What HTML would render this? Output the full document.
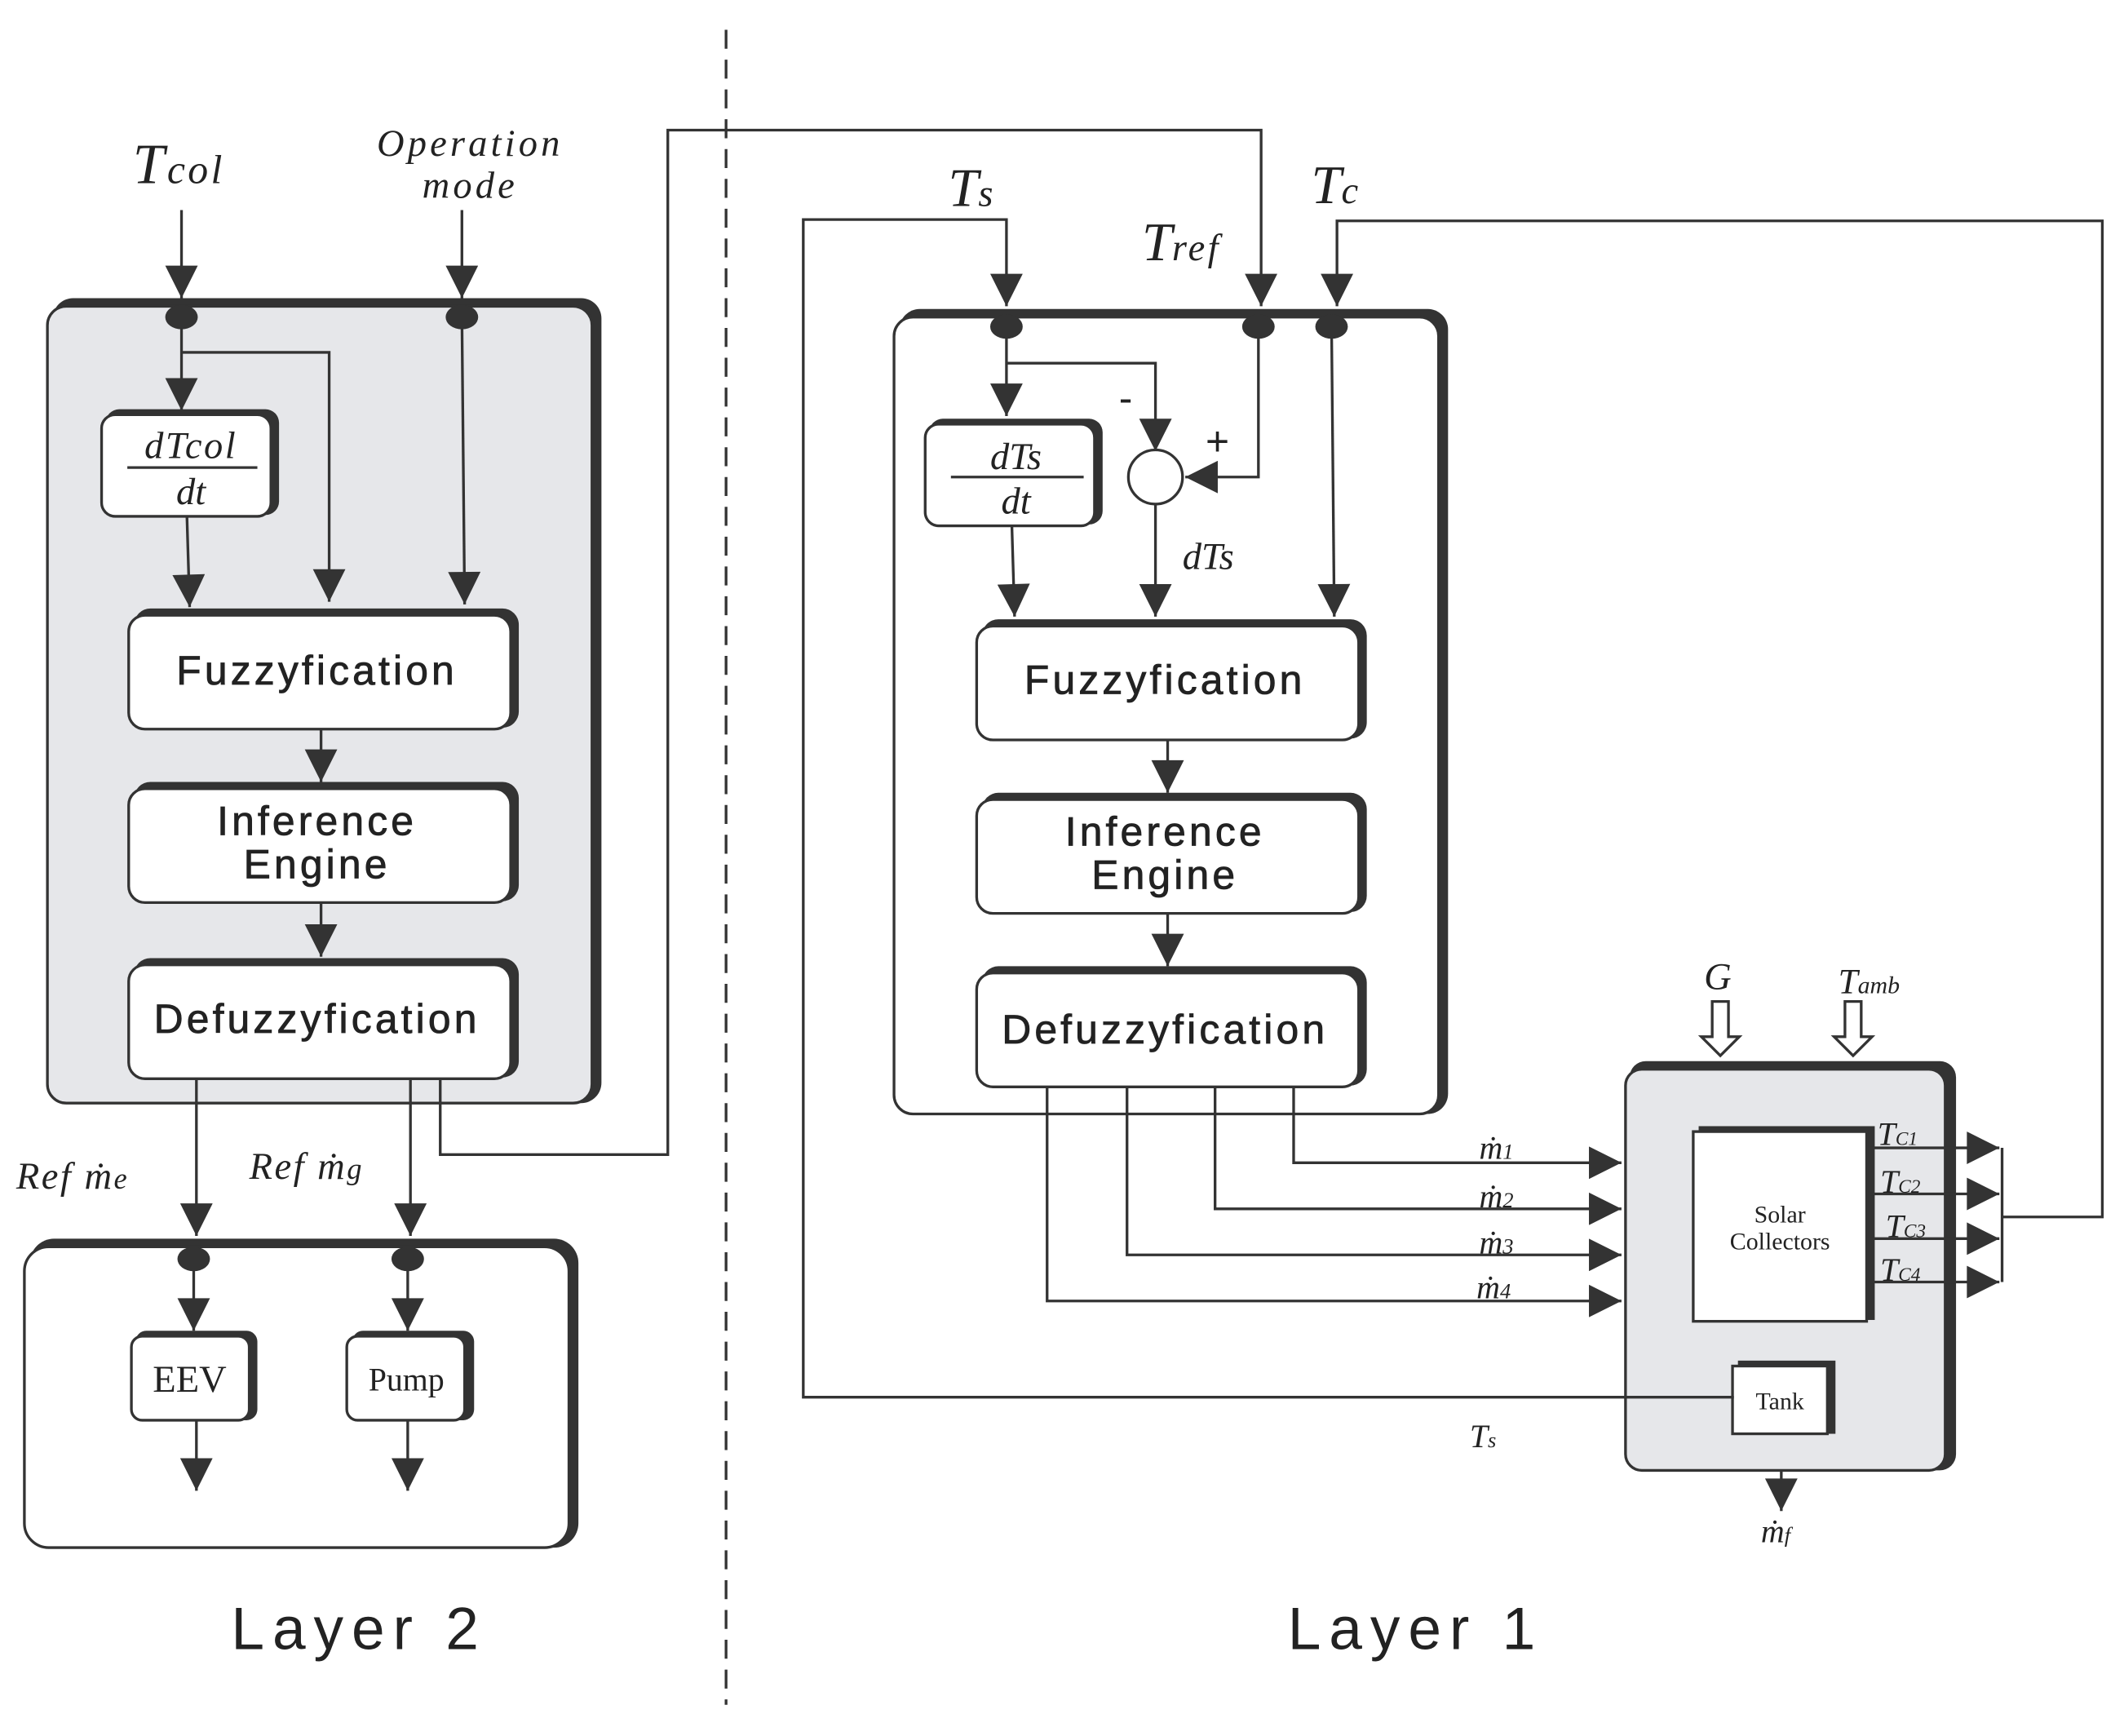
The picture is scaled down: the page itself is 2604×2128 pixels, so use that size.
<!DOCTYPE html>
<html><head><meta charset="utf-8"><style>
html,body{margin:0;padding:0;background:#fff;}
svg{display:block;}
.s{font-family:"Liberation Sans",sans-serif;fill:#222;}
.i{font-family:"Liberation Serif",serif;font-style:italic;fill:#222;}
.r{font-family:"Liberation Serif",serif;fill:#222;}
.bx{font-size:30px;letter-spacing:2.5px;stroke:#222;stroke-width:0.5px;}
.ly{font-size:44px;letter-spacing:6px;}
</style></head><body>
<svg width="2604" height="2128" viewBox="0 0 1568 1281" preserveAspectRatio="none" xmlns="http://www.w3.org/2000/svg">
<defs>
<marker id="b" viewBox="0 0 10 10" refX="10" refY="5" markerWidth="26" markerHeight="24" orient="auto" markerUnits="userSpaceOnUse"><path d="M0,0 L10,5 L0,10 z" fill="#333"/></marker>
</defs>
<g stroke="#333" fill="none" stroke-width="2">
<line x1="536" y1="22" x2="536" y2="1258" stroke-dasharray="14,8"/>

<rect x="39" y="220" width="405" height="594" rx="15" fill="#333" stroke="none"/>
<rect x="35" y="226" width="402" height="588" rx="14" fill="#e6e7ea"/>
<rect x="22" y="914" width="405" height="228" rx="18" fill="#333" stroke="none"/>
<rect x="18" y="920" width="402" height="222" rx="18" fill="#fff"/>

<rect x="664" y="228" width="405" height="594" rx="15" fill="#333" stroke="none"/>
<rect x="660" y="234" width="402" height="588" rx="14" fill="#fff"/>

<rect x="1203" y="783" width="241" height="302" rx="12" fill="#333" stroke="none"/>
<rect x="1200" y="789" width="236" height="296" rx="12" fill="#e6e7ea"/>
<rect x="1254" y="831" width="130" height="143" fill="#333" stroke="none"/>
<rect x="1250" y="835" width="128" height="140" fill="#fff"/>
<rect x="1283" y="1004" width="72" height="54" fill="#333" stroke="none"/>
<rect x="1279" y="1008" width="70" height="50" fill="#fff"/>

<g>
<rect x="99" y="449" width="284" height="88" rx="12" fill="#333" stroke="none"/>
<rect x="95" y="454" width="282" height="84" rx="12" fill="#fff"/>
<rect x="99" y="577" width="284" height="88" rx="12" fill="#333" stroke="none"/>
<rect x="95" y="582" width="282" height="84" rx="12" fill="#fff"/>
<rect x="99" y="707" width="284" height="88" rx="12" fill="#333" stroke="none"/>
<rect x="95" y="712" width="282" height="84" rx="12" fill="#fff"/>
<rect x="78" y="302" width="128" height="78" rx="10" fill="#333" stroke="none"/>
<rect x="75" y="306" width="125" height="75" rx="10" fill="#fff"/>

<rect x="725" y="457" width="284" height="88" rx="12" fill="#333" stroke="none"/>
<rect x="721" y="462" width="282" height="84" rx="12" fill="#fff"/>
<rect x="725" y="585" width="284" height="88" rx="12" fill="#333" stroke="none"/>
<rect x="721" y="590" width="282" height="84" rx="12" fill="#fff"/>
<rect x="725" y="713" width="284" height="88" rx="12" fill="#333" stroke="none"/>
<rect x="721" y="718" width="282" height="84" rx="12" fill="#fff"/>
<rect x="686" y="309" width="128" height="78" rx="10" fill="#333" stroke="none"/>
<rect x="683" y="313" width="125" height="75" rx="10" fill="#fff"/>

<rect x="100" y="982" width="90" height="66" rx="8" fill="#333" stroke="none"/>
<rect x="97" y="986" width="87" height="62" rx="8" fill="#fff"/>
<rect x="260" y="982" width="90" height="66" rx="8" fill="#333" stroke="none"/>
<rect x="256" y="986" width="87" height="62" rx="8" fill="#fff"/>
</g>

<line x1="134" y1="155" x2="134" y2="220" marker-end="url(#b)"/>
<line x1="341" y1="155" x2="341" y2="220" marker-end="url(#b)"/>
<line x1="134" y1="234" x2="134" y2="303" marker-end="url(#b)"/>
<polyline points="134,260 243,260 243,444" marker-end="url(#b)"/>
<line x1="341" y1="234" x2="343" y2="446" marker-end="url(#b)"/>
<line x1="138" y1="381" x2="140" y2="448" marker-end="url(#b)"/>
<line x1="237" y1="538" x2="237" y2="577" marker-end="url(#b)"/>
<line x1="237" y1="666" x2="237" y2="706" marker-end="url(#b)"/>
<line x1="145" y1="796" x2="145" y2="912" marker-end="url(#b)"/>
<line x1="303" y1="796" x2="303" y2="912" marker-end="url(#b)"/>
<polyline points="325,796 325,852 493,852 493,96 931,96 931,226" marker-end="url(#b)"/>
<line x1="143" y1="929" x2="143" y2="982" marker-end="url(#b)"/>
<line x1="301" y1="929" x2="301" y2="982" marker-end="url(#b)"/>
<line x1="145" y1="1048" x2="145" y2="1100" marker-end="url(#b)"/>
<line x1="301" y1="1048" x2="301" y2="1100" marker-end="url(#b)"/>
<line x1="94" y1="345" x2="190" y2="345"/>

<polyline points="1280,1031 593,1031 593,162 743,162 743,226" marker-end="url(#b)"/>
<line x1="743" y1="241" x2="743" y2="307" marker-end="url(#b)"/>
<polyline points="743,268 853,268 853,333" marker-end="url(#b)"/>
<circle cx="853" cy="352" r="20" fill="#fff"/>
<polyline points="929,241 929,352 875,352" marker-end="url(#b)"/>
<line x1="853" y1="372" x2="853" y2="455" marker-end="url(#b)"/>
<line x1="747" y1="388" x2="749" y2="455" marker-end="url(#b)"/>
<polyline points="1478,898 1552,898 1552,163 987,163 987,226" marker-end="url(#b)"/>
<line x1="983" y1="241" x2="985" y2="455" marker-end="url(#b)"/>
<line x1="862" y1="546" x2="862" y2="585" marker-end="url(#b)"/>
<line x1="862" y1="674" x2="862" y2="713" marker-end="url(#b)"/>
<polyline points="955,802 955,858 1197,858" marker-end="url(#b)"/>
<polyline points="897,802 897,892 1197,892" marker-end="url(#b)"/>
<polyline points="832,802 832,926 1197,926" marker-end="url(#b)"/>
<polyline points="773,802 773,960 1197,960" marker-end="url(#b)"/>
<line x1="702" y1="352" x2="800" y2="352"/>
<line x1="1380" y1="847" x2="1476" y2="847" marker-end="url(#b)"/>
<line x1="1380" y1="881" x2="1476" y2="881" marker-end="url(#b)"/>
<line x1="1380" y1="914" x2="1476" y2="914" marker-end="url(#b)"/>
<line x1="1380" y1="946" x2="1476" y2="946" marker-end="url(#b)"/>
<line x1="1478" y1="847" x2="1478" y2="946"/>
<line x1="1315" y1="1085" x2="1315" y2="1115" marker-end="url(#b)"/>
<path d="M1264,739 h12 v26 h8 l-14,14 l-14,-14 h8 z" fill="#fff"/>
<path d="M1362,739 h12 v26 h8 l-14,14 l-14,-14 h8 z" fill="#fff"/>
</g>
<g fill="#333">
<ellipse cx="134" cy="234" rx="12" ry="9"/><ellipse cx="341" cy="234" rx="12" ry="9"/>
<ellipse cx="143" cy="929" rx="12" ry="9"/><ellipse cx="301" cy="929" rx="12" ry="9"/>
<ellipse cx="743" cy="241" rx="12" ry="9"/><ellipse cx="929" cy="241" rx="12" ry="9"/><ellipse cx="983" cy="241" rx="12" ry="9"/>
</g>

<text class="i" x="98" y="135" font-size="42" letter-spacing="2">T<tspan font-size="30">col</tspan></text>
<text class="i" x="347" y="115" font-size="28" letter-spacing="2.5" text-anchor="middle">Operation</text>
<text class="i" x="347" y="146" font-size="28" letter-spacing="2.5" text-anchor="middle">mode</text>
<text class="i" x="141" y="338" font-size="28" letter-spacing="1.5" text-anchor="middle">dTcol</text>
<text class="i" x="141" y="372" font-size="28" text-anchor="middle">dt</text>
<text class="s bx" x="234" y="505" text-anchor="middle">Fuzzyfication</text>
<text class="s bx" x="234" y="616" text-anchor="middle">Inference</text>
<text class="s bx" x="234" y="648" text-anchor="middle">Engine</text>
<text class="s bx" x="234" y="762" text-anchor="middle">Defuzzyfication</text>
<text class="i" x="12" y="877" font-size="28" letter-spacing="1.5">Ref ṁ<tspan font-size="22">e</tspan></text>
<text class="i" x="184" y="870" font-size="28" letter-spacing="1.5">Ref ṁ<tspan font-size="22">g</tspan></text>
<text class="r" x="140" y="1027" font-size="28" text-anchor="middle">EEV</text>
<text class="r" x="300" y="1026" font-size="24" text-anchor="middle">Pump</text>
<text class="s ly" x="265" y="1217" text-anchor="middle">Layer 2</text>
<text class="s ly" x="1045" y="1217" text-anchor="middle">Layer 1</text>

<text class="i" x="700" y="152" font-size="40">T<tspan font-size="28">s</tspan></text>
<text class="i" x="843" y="192" font-size="40">T<tspan font-size="28" letter-spacing="2">ref</tspan></text>
<text class="i" x="968" y="150" font-size="40">T<tspan font-size="28">c</tspan></text>
<text class="i" x="750" y="346" font-size="28" text-anchor="middle">dTs</text>
<text class="i" x="750" y="379" font-size="28" text-anchor="middle">dt</text>
<text class="s" x="826" y="304" font-size="30">-</text>
<text class="s" x="890" y="336" font-size="30">+</text>
<text class="i" x="873" y="420" font-size="28">dTs</text>
<text class="s bx" x="860" y="512" text-anchor="middle">Fuzzyfication</text>
<text class="s bx" x="860" y="624" text-anchor="middle">Inference</text>
<text class="s bx" x="860" y="656" text-anchor="middle">Engine</text>
<text class="s bx" x="860" y="770" text-anchor="middle">Defuzzyfication</text>
<text class="i" x="1092" y="855" font-size="24">ṁ<tspan font-size="16">1</tspan></text>
<text class="i" x="1092" y="891" font-size="24">ṁ<tspan font-size="16">2</tspan></text>
<text class="i" x="1092" y="925" font-size="24">ṁ<tspan font-size="16">3</tspan></text>
<text class="i" x="1090" y="958" font-size="24">ṁ<tspan font-size="16">4</tspan></text>
<text class="i" x="1085" y="1068" font-size="24">T<tspan font-size="16">s</tspan></text>
<text class="i" x="1258" y="730" font-size="28">G</text>
<text class="i" x="1357" y="733" font-size="26">T<tspan font-size="18">amb</tspan></text>
<text class="r" x="1314" y="902" font-size="18" text-anchor="middle">Solar</text>
<text class="r" x="1314" y="922" font-size="18" text-anchor="middle">Collectors</text>
<text class="r" x="1314" y="1040" font-size="18" text-anchor="middle">Tank</text>
<text class="i" x="1386" y="845" font-size="24">T<tspan font-size="14">C1</tspan></text>
<text class="i" x="1388" y="880" font-size="24">T<tspan font-size="14">C2</tspan></text>
<text class="i" x="1392" y="913" font-size="24">T<tspan font-size="14">C3</tspan></text>
<text class="i" x="1388" y="945" font-size="24">T<tspan font-size="14">C4</tspan></text>
<text class="i" x="1300" y="1138" font-size="24">ṁ<tspan font-size="16">f</tspan></text>
</svg>
</body></html>
